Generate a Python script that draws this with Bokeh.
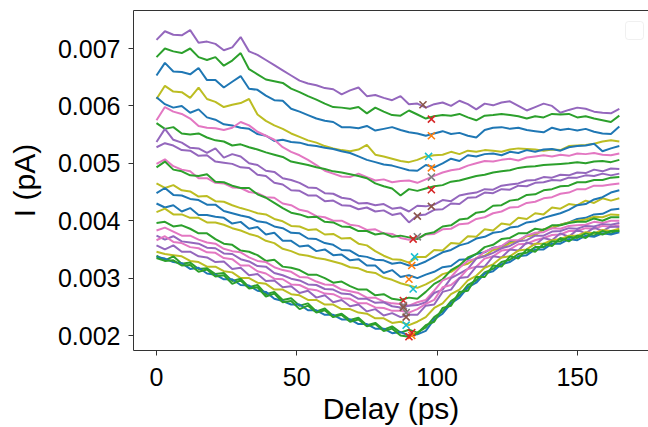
from bokeh.plotting import figure
from bokeh.models import Range1d, FixedTicker, PrintfTickFormatter, LinearAxis, BoxAnnotation
from bokeh.embed import file_html
from bokeh.resources import INLINE

# Delay axis (ps)
delay_ps = [0, 3, 6, 9, 12, 15, 18, 21,
            24, 27, 30, 33, 36, 39, 42, 45,
            48, 51, 54, 57, 60, 63, 66, 69,
            72, 75, 78, 81, 84, 87, 90, 93,
            96, 99, 102, 105, 108, 111, 114, 117,
            120, 123, 126, 129, 132, 135, 138, 141,
            144, 147, 150, 153, 156, 159, 162, 165]

UNIT = 1e-5  # current values below are in units of 1e-5 pA

current_01 = [715, 730, 724, 723, 732, 710, 712, 708, 697, 702, 720, 695, 689, 680, 671, 662,
              653, 644, 639, 636, 631, 629, 620, 627, 632, 617, 619, 614, 610, 617, 603, 604,
              597, 603, 606, 600, 609, 603, 594, 604, 601, 606, 608, 600, 592, 598, 604, 600,
              588, 593, 597, 595, 590, 588, 587, 595]
current_02 = [685, 700, 695, 692, 700, 685, 680, 685, 670, 679, 692, 664, 655, 646, 643, 640,
              630, 624, 617, 611, 604, 598, 597, 595, 598, 587, 597, 590, 584, 583, 592, 585,
              578, 582, 584, 583, 586, 580, 575, 583, 584, 586, 584, 582, 578, 582, 580, 586,
              585, 586, 580, 582, 578, 575, 572, 583]
current_03 = [653, 675, 660, 659, 655, 666, 645, 645, 632, 642, 652, 630, 628, 618, 610, 609,
              595, 590, 584, 578, 574, 572, 563, 563, 561, 565, 557, 560, 563, 558, 554, 552,
              548, 552, 556, 551, 553, 548, 545, 558, 562, 563, 560, 562, 558, 556, 554, 562,
              558, 560, 557, 560, 555, 552, 551, 564]
current_04 = [612, 635, 625, 624, 614, 632, 612, 607, 598, 602, 605, 612, 585, 574, 566, 560,
              552, 546, 540, 536, 530, 526, 523, 521, 524, 532, 515, 512, 508, 504, 502, 506,
              512, 514, 515, 520, 516, 522, 520, 523, 522, 520, 524, 526, 525, 524, 522, 524,
              523, 530, 531, 532, 534, 538, 540, 538]
current_05 = [615, 603, 597, 600, 588, 594, 580, 576, 568, 566, 562, 560, 551, 548, 539, 541,
              537, 536, 532, 530, 527, 525, 521, 518, 512, 506, 502, 498, 496, 492, 488, 487,
              497, 493, 500, 508, 504, 514, 512, 516, 517, 514, 520, 518, 523, 520, 524, 525,
              522, 528, 530, 531, 534, 521, 526, 530]
current_06 = [575, 598, 590, 586, 578, 565, 562, 561, 558, 562, 572, 566, 555, 548, 541, 528,
              520, 514, 506, 497, 487, 482, 477, 476, 482, 476, 470, 472, 467, 469, 470, 466,
              472, 478, 484, 488, 490, 496, 500, 504, 503, 506, 508, 505, 510, 512, 514, 512,
              515, 513, 517, 516, 518, 515, 514, 517]
current_07 = [570, 560, 563, 552, 550, 552, 545, 540, 538, 531, 533, 528, 524, 519, 515, 511,
              503, 500, 497, 493, 490, 486, 484, 481, 478, 474, 465, 460, 456, 444, 455, 452,
              456, 460, 462, 468, 470, 474, 478, 480, 484, 486, 488, 492, 494, 495, 497, 498,
              499, 500, 502, 500, 503, 504, 502, 506]
current_08 = [537, 560, 541, 536, 527, 526, 518, 526, 510, 516, 512, 500, 497, 487, 485, 474,
              471, 466, 458, 457, 448, 447, 440, 438, 430, 431, 427, 429, 421, 423, 416, 426,
              425, 428, 436, 434, 444, 447, 449, 455, 454, 461, 463, 465, 470, 471, 476, 475,
              480, 479, 484, 483, 489, 486, 491, 490]
current_09 = [528, 535, 531, 523, 522, 513, 514, 503, 501, 499, 493, 492, 480, 478, 466, 463,
              453, 452, 444, 444, 434, 435, 427, 426, 420, 423, 416, 418, 410, 413, 397, 409,
              411, 419, 420, 430, 429, 440, 441, 449, 448, 455, 454, 461, 460, 466, 467, 471,
              470, 475, 475, 479, 478, 482, 479, 482]
current_10 = [499, 507, 495, 489, 486, 474, 474, 466, 465, 458, 457, 450, 448, 441, 440, 430,
              427, 419, 416, 408, 406, 400, 400, 393, 391, 384, 385, 378, 377, 370, 367, 369,
              376, 377, 385, 386, 394, 395, 403, 406, 413, 416, 423, 424, 431, 433, 439, 441,
              447, 449, 455, 455, 461, 461, 463, 465]
current_11 = [493, 503, 489, 486, 479, 478, 481, 468, 467, 461, 457, 457, 446, 440, 431, 422,
              414, 411, 406, 407, 398, 397, 390, 389, 382, 382, 376, 378, 372, 374, 371, 368,
              377, 380, 390, 392, 402, 404, 414, 416, 426, 427, 435, 437, 445, 446, 453, 455,
              460, 461, 467, 467, 471, 471, 475, 476]
current_12 = [465, 457, 462, 453, 451, 442, 443, 434, 433, 427, 422, 418, 413, 411, 403, 399,
              391, 390, 384, 385, 376, 377, 369, 370, 360, 357, 347, 339, 333, 332, 327, 337,
              337, 349, 348, 361, 360, 373, 372, 385, 383, 395, 393, 405, 403, 413, 411, 423,
              421, 429, 427, 435, 431, 439, 435, 439]
current_13 = [448, 457, 445, 444, 438, 436, 428, 428, 417, 413, 409, 406, 399, 397, 390, 387,
              379, 378, 369, 368, 361, 358, 349, 348, 339, 337, 332, 331, 325, 327, 322, 323,
              329, 337, 345, 349, 357, 361, 369, 372, 379, 381, 388, 390, 397, 399, 405, 409,
              413, 419, 427, 429, 437, 441, 449, 453]
current_14 = [430, 423, 427, 416, 422, 410, 410, 407, 405, 395, 398, 386, 389, 376, 379, 365,
              365, 355, 357, 347, 350, 340, 341, 331, 333, 322, 322, 309, 314, 302, 305, 300,
              306, 311, 319, 321, 332, 333, 342, 345, 353, 355, 364, 365, 374, 376, 385, 387,
              393, 397, 403, 405, 411, 412, 419, 421]
current_15 = [415, 421, 411, 411, 405, 405, 397, 397, 393, 387, 383, 377, 373, 365, 361, 351,
              347, 341, 339, 335, 333, 329, 325, 319, 317, 311, 309, 301, 297, 291, 287, 283,
              289, 297, 307, 311, 321, 325, 335, 339, 349, 352, 361, 364, 373, 375, 385, 388,
              393, 397, 400, 402, 407, 406, 411, 410]
current_16 = [396, 398, 390, 392, 386, 378, 378, 368, 360, 358, 348, 346, 340, 330, 332, 320,
              318, 314, 306, 306, 300, 292, 294, 286, 280, 280, 270, 272, 264, 262, 266, 264,
              276, 290, 298, 314, 322, 336, 342, 354, 358, 368, 370, 378, 378, 386, 384, 392,
              392, 396, 398, 398, 404, 400, 406, 406]
current_17 = [383, 388, 381, 374, 374, 367, 362, 360, 351, 347, 345, 336, 330, 328, 319, 314,
              311, 302, 301, 294, 289, 288, 280, 277, 274, 266, 266, 259, 256, 255, 252, 258,
              262, 278, 296, 302, 318, 330, 334, 346, 352, 356, 366, 366, 374, 379, 380, 387,
              386, 391, 392, 393, 398, 396, 400, 400]
current_18 = [374, 367, 373, 364, 362, 360, 353, 352, 343, 342, 333, 329, 321, 320, 309, 305,
              299, 296, 289, 288, 281, 280, 273, 272, 264, 264, 257, 258, 251, 249, 252, 253,
              258, 274, 280, 300, 308, 316, 334, 338, 344, 352, 356, 364, 366, 374, 374, 381,
              382, 387, 386, 391, 390, 394, 393, 396]
current_19 = [366, 373, 363, 361, 354, 352, 345, 344, 335, 333, 322, 322, 312, 308, 299, 298,
              289, 288, 281, 279, 273, 272, 265, 264, 256, 256, 249, 248, 243, 243, 240, 246,
              255, 262, 284, 288, 300, 316, 320, 334, 338, 348, 350, 359, 360, 366, 370, 375,
              376, 382, 382, 387, 386, 391, 389, 392]
current_20 = [357, 350, 357, 346, 346, 338, 336, 328, 329, 316, 318, 305, 307, 295, 296, 284,
              286, 274, 278, 266, 270, 258, 262, 251, 254, 242, 246, 235, 239, 232, 236, 236,
              252, 254, 276, 280, 300, 302, 320, 320, 338, 336, 350, 348, 362, 358, 370, 366,
              378, 372, 384, 378, 388, 382, 390, 389]
current_21 = [346, 342, 340, 338, 330, 328, 320, 320, 312, 310, 300, 300, 292, 290, 280, 280,
              272, 270, 262, 262, 254, 254, 246, 246, 240, 238, 230, 230, 222, 224, 218, 224,
              232, 248, 256, 272, 280, 296, 304, 318, 324, 336, 338, 348, 350, 360, 360, 366,
              368, 374, 374, 380, 378, 384, 382, 386]
current_22 = [339, 331, 338, 325, 327, 316, 317, 307, 309, 295, 299, 284, 288, 272, 276, 262,
              265, 252, 256, 242, 247, 234, 238, 227, 231, 218, 222, 210, 216, 205, 210, 205,
              214, 232, 242, 260, 270, 288, 296, 310, 316, 328, 332, 342, 344, 354, 354, 364,
              364, 372, 370, 378, 374, 382, 378, 383]
current_23 = [337, 334, 328, 326, 316, 318, 308, 306, 298, 298, 288, 287, 278, 276, 264, 260,
              254, 254, 244, 244, 236, 236, 228, 228, 220, 220, 212, 212, 204, 206, 200, 202,
              208, 228, 238, 256, 266, 284, 292, 308, 312, 324, 328, 338, 340, 350, 350, 360,
              360, 368, 366, 374, 372, 378, 376, 380]
current_24 = [335, 330, 331, 322, 323, 311, 315, 303, 305, 290, 296, 282, 284, 268, 273, 258,
              260, 246, 252, 240, 244, 232, 236, 224, 228, 216, 220, 208, 212, 200, 198, 204,
              218, 224, 248, 252, 276, 278, 302, 302, 322, 320, 338, 334, 350, 346, 360, 356,
              370, 364, 374, 370, 380, 376, 382, 382]

series = [current_01, current_02, current_03, current_04, current_05, current_06,
          current_07, current_08, current_09, current_10, current_11, current_12,
          current_13, current_14, current_15, current_16, current_17, current_18,
          current_19, current_20, current_21, current_22, current_23, current_24]

# Minimum markers (delay in ps, current in 1e-5 pA)
min_delay = [95, 98, 98, 97, 98, 98, 98, 98, 93, 93, 91.5, 92,
             91, 90, 91.5, 88, 88, 88, 89, 89, 89, 91, 91, 90]
min_current = [602, 577, 548, 512, 492, 476, 454, 425, 408, 372, 368, 337,
               322, 298, 281, 261, 252, 249, 240, 232, 218, 205, 200, 198]

BLUE, ORANGE, GREEN, RED, PURPLE = "#1f77b4", "#ff7f0e", "#2ca02c", "#d62728", "#9467bd"
BROWN, PINK, GRAY, OLIVE, CYAN = "#8c564b", "#e377c2", "#7f7f7f", "#bcbd22", "#17becf"

line_colors = [PURPLE, GREEN, BLUE, OLIVE, BLUE, PINK, GREEN, PURPLE, PURPLE, PINK, GREEN, OLIVE,
               BLUE, BLUE, OLIVE, GREEN, PINK, PURPLE, PINK, PURPLE, OLIVE, GREEN, BLUE, GREEN]
pair = {PURPLE: BROWN, GREEN: RED, BLUE: ORANGE, OLIVE: CYAN, PINK: GRAY}

x_ticks = [0, 50, 100, 150]
y_ticks = [0.002, 0.003, 0.004, 0.005, 0.006, 0.007]

FONT = "Liberation Sans"

p = figure(width=648, height=427, output_backend="svg", toolbar_location=None,
           x_range=Range1d(-8.2, 175.4), y_range=Range1d(0.001739, 0.007662),
           min_border_left=133, min_border_right=0, min_border_top=10, min_border_bottom=77)
p.outline_line_color = None
p.grid.visible = False
p.background_fill_color = "white"
p.border_fill_color = "white"

for vals, col in zip(series, line_colors):
    p.line(delay_ps, [v * UNIT for v in vals], line_color=col, line_width=2)

for d, c, col in zip(min_delay, min_current, line_colors):
    p.scatter([d], [c * UNIT], marker="x", size=10, line_color=pair[col], line_width=1.6)

for ax in (p.xaxis[0], p.yaxis[0]):
    ax.axis_line_color = "#333333"
    ax.axis_line_width = 1
    ax.major_tick_line_color = "#333333"
    ax.major_tick_out = 5
    ax.major_tick_in = 0
    ax.minor_tick_out = 0
    ax.minor_tick_in = 0
    ax.major_label_text_font = FONT
    ax.major_label_text_font_size = "25px"
    ax.major_label_text_color = "black"
    ax.axis_label_text_font = FONT
    ax.axis_label_text_font_size = "30px"
    ax.axis_label_text_font_style = "normal"
    ax.axis_label_text_color = "black"

p.xaxis[0].ticker = FixedTicker(ticks=x_ticks)
p.xaxis[0].axis_label = "Delay (ps)"
p.xaxis[0].major_label_standoff = 12
p.xaxis[0].axis_label_standoff = 3

p.yaxis[0].ticker = FixedTicker(ticks=y_ticks)
p.yaxis[0].formatter = PrintfTickFormatter(format="%.3f")
p.yaxis[0].axis_label = "I (pA)"
p.yaxis[0].major_label_standoff = 8
p.yaxis[0].axis_label_standoff = 14

top_axis = LinearAxis(ticker=FixedTicker(ticks=[]), axis_line_color="#333333", axis_line_width=1,
                      major_tick_out=0, major_tick_in=0, minor_tick_out=0, minor_tick_in=0,
                      major_label_text_font_size="0px")
p.add_layout(top_axis, "above")

# empty legend frame (screen units, relative to the plot frame)
legend_box = BoxAnnotation(left=492, right=510, bottom=311, top=329,
                           left_units="screen", right_units="screen",
                           top_units="screen", bottom_units="screen",
                           fill_color="white", fill_alpha=1.0,
                           line_color="#cccccc", line_width=1, border_radius=3)
p.add_layout(legend_box)

open("out.html", "w").write(file_html(p, INLINE))
